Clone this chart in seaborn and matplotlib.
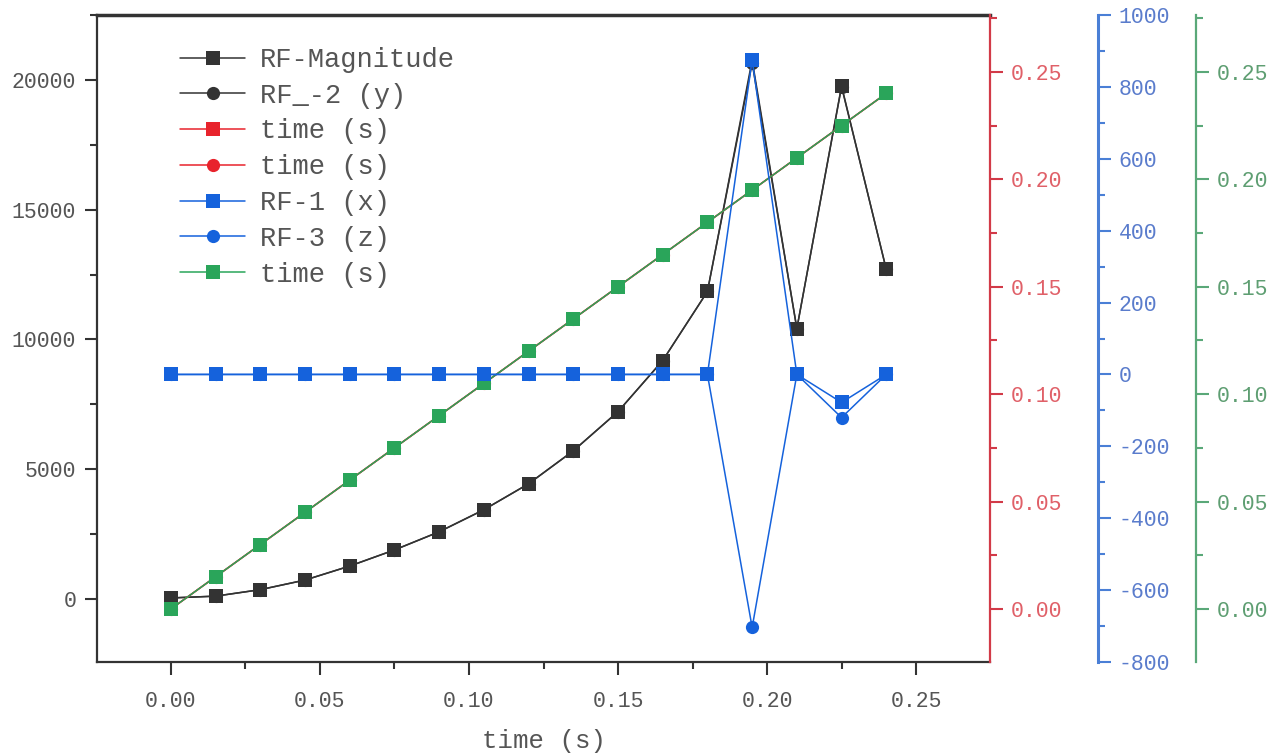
import numpy as np
import pandas as pd
import matplotlib
matplotlib.use("Agg")
import matplotlib.pyplot as plt
from matplotlib.ticker import MultipleLocator, FormatStrFormatter
from matplotlib.lines import Line2D
import seaborn as sns

# ---------------- data ----------------
time_s = [0.0, 0.015, 0.03, 0.045, 0.06, 0.075, 0.09, 0.105, 0.12, 0.135,
          0.15, 0.165, 0.18, 0.195, 0.21, 0.225, 0.24]
rf_magnitude = [40, 110, 360, 730, 1270, 1890, 2590, 3440, 4440, 5710,
                7220, 9190, 11850, 20770, 10420, 19770, 12700]
rf_2_y = [40, 110, 360, 730, 1270, 1890, 2590, 3440, 4440, 5710,
          7220, 9190, 11850, 20650, 10420, 19740, 12700]
rf_1_x = [0, 0, 0, 0, 0, 0, 0, 0, 0, 0, 0, 0, 0, 875, 0, -78, 0]
rf_3_z = [0, 0, 0, 0, 0, 0, 0, 0, 0, 0, 0, 0, 0, -704, 0, -120, 0]
time_red_sq = time_s
time_red_ci = time_s
time_green = time_s

legend_labels = ["RF-Magnitude", "RF_-2 (y)", "time (s)", "time (s)",
                 "RF-1 (x)", "RF-3 (z)", "time (s)"]

df = pd.DataFrame({"t": time_s, "mag": rf_magnitude, "y": rf_2_y,
                   "x": rf_1_x, "z": rf_3_z, "tr1": time_red_sq,
                   "tr2": time_red_ci, "tg": time_green})

# ---------------- style ----------------
sns.set_theme(style="white")
FONT = ["Liberation Mono", "DejaVu Sans Mono"]
plt.rcParams["font.family"] = FONT
plt.rcParams["axes.linewidth"] = 1.6

C_BLACK = "#333333"
C_RED = "#e8232c"
C_BLUE = "#1562dc"
C_GREEN = "#2aa55a"
S_RED = "#d23a48"
S_BLUE = "#4a7fd6"
S_GREEN = "#5aa878"
L_RED = "#e06068"
L_BLUE = "#5a7ccc"
L_GREEN = "#5e9e72"
L_GRAY = "#555555"

fig = plt.figure(figsize=(12.79, 7.55), dpi=100)
ax = fig.add_axes([97 / 1279, 93 / 755, 893 / 1279, 647 / 755])
ax_r = ax.twinx()
ax_g = ax.twinx()
ax_b = ax.twinx()

MS = 9.5
LW = 1.1

sns.lineplot(data=df, x="t", y="y", ax=ax, color=C_BLACK, marker="o",
             markersize=MS, markeredgewidth=0, linewidth=LW, label=legend_labels[1])
sns.lineplot(data=df, x="t", y="mag", ax=ax, color=C_BLACK, marker="s",
             markersize=MS, markeredgewidth=0, linewidth=LW, label=legend_labels[0])
sns.lineplot(data=df, x="t", y="tr1", ax=ax_r, color=C_RED, marker="s",
             markersize=MS, markeredgewidth=0, linewidth=LW, label=legend_labels[2])
sns.lineplot(data=df, x="t", y="tr2", ax=ax_r, color=C_RED, marker="o",
             markersize=MS, markeredgewidth=0, linewidth=LW, label=legend_labels[3])
sns.lineplot(data=df, x="t", y="tg", ax=ax_g, color=C_GREEN, marker="s",
             markersize=MS, markeredgewidth=0, linewidth=LW, label=legend_labels[6])
sns.lineplot(data=df, x="t", y="x", ax=ax_b, color=C_BLUE, marker="s",
             markersize=MS, markeredgewidth=0, linewidth=LW, label=legend_labels[4])
sns.lineplot(data=df, x="t", y="z", ax=ax_b, color=C_BLUE, marker="o",
             markersize=MS, markeredgewidth=0, linewidth=LW, label=legend_labels[5])

for a in (ax, ax_r, ax_g, ax_b):
    leg = a.get_legend()
    if leg is not None:
        leg.remove()
    a.set_ylabel("")
    a.set_xlabel("")

# limits
ax.set_xlim(-0.0248, 0.2748)
ax.set_ylim(-2428, 22505)
ax_r.set_ylim(-0.0247, 0.2765)
ax_g.set_ylim(-0.0247, 0.2765)
ax_b.set_ylim(-800, 1000)

# main axis
ax.xaxis.set_major_locator(MultipleLocator(0.05))
ax.xaxis.set_minor_locator(MultipleLocator(0.025))
ax.xaxis.set_major_formatter(FormatStrFormatter("%.2f"))
ax.yaxis.set_major_locator(MultipleLocator(5000))
ax.yaxis.set_minor_locator(MultipleLocator(2500))
ax.tick_params(axis="both", which="major", direction="out", length=9, width=1.5,
               color=C_BLACK, labelsize=15.5, labelcolor=L_GRAY, pad=6,
               bottom=True, left=True)
ax.tick_params(axis="x", which="major", pad=12)
ax.tick_params(axis="both", which="minor", direction="out", length=5, width=1.5,
               color=C_BLACK, bottom=True, left=True)
for s in ("left", "bottom", "top"):
    ax.spines[s].set_color(C_BLACK)
    ax.spines[s].set_linewidth(1.6)
ax.spines["top"].set_linewidth(2.5)
ax.spines["right"].set_visible(False)
ax.set_xlabel("time (s)", fontsize=18.5, color=L_GRAY, labelpad=12)

def style_twin(a, color, lcolor, major, minor, fmt, pos=None):
    for s in ("left", "top", "bottom"):
        a.spines[s].set_visible(False)
    a.spines["right"].set_color(color)
    a.spines["right"].set_linewidth(1.6)
    if pos is not None:
        a.spines["right"].set_position(("axes", pos))
    a.yaxis.set_major_locator(MultipleLocator(major))
    a.yaxis.set_minor_locator(MultipleLocator(minor))
    a.yaxis.set_major_formatter(FormatStrFormatter(fmt))
    a.tick_params(axis="y", which="major", direction="out", length=9, width=1.5,
                  color=color, labelsize=15.5, labelcolor=lcolor, pad=6, right=True)
    a.tick_params(axis="y", which="minor", direction="out", length=5, width=1.5,
                  color=color, right=True)

style_twin(ax_r, S_RED, L_RED, 0.05, 0.025, "%.2f")
style_twin(ax_b, S_BLUE, L_BLUE, 200, 100, "%d", pos=1 + 108 / 893)
style_twin(ax_g, S_GREEN, L_GREEN, 0.05, 0.025, "%.2f", pos=1 + 206 / 893)
ax_b.spines["right"].set_linewidth(2.2)

# legend
handles = []
spec = [(C_BLACK, "s"), (C_BLACK, "o"), (C_RED, "s"), (C_RED, "o"),
        (C_BLUE, "s"), (C_BLUE, "o"), (C_GREEN, "s")]
for (c, m) in spec:
    handles.append(Line2D([], [], color=c, marker=m, markersize=MS,
                          markeredgewidth=0, linewidth=LW))
ax_b.legend(handles, legend_labels, loc="upper left",
            bbox_to_anchor=(83 / 893, 615 / 647), frameon=False,
            borderaxespad=0, borderpad=0, handlelength=2.4,
            handletextpad=0.55, labelspacing=0.36,
            prop={"family": FONT, "size": 19.5}, labelcolor=L_GRAY)

fig.savefig("out.png", dpi=100)
